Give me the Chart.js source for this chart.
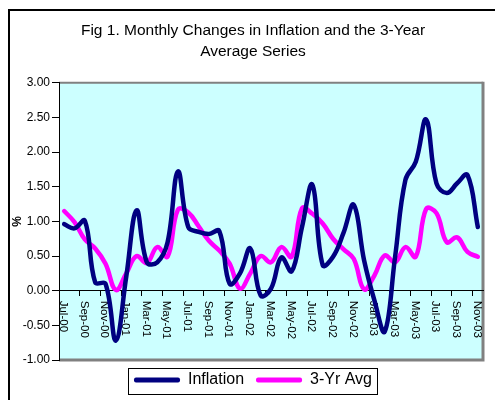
<!DOCTYPE html>
<html>
<head>
<meta charset="utf-8">
<script src="https://cdn.jsdelivr.net/npm/chart.js@4.4.1/dist/chart.umd.min.js"></script>
<style>
html, body { margin: 0; padding: 0; background: #fff; overflow: hidden; }
#frame { position: absolute; left: 8px; top: 9px; width: 600px; height: 500px; border: 2px solid #000; }
#wrap { position: absolute; left: 0; top: 0; width: 495px; height: 400px; }
</style>
</head>
<body>
<div id="frame"></div>
<div id="wrap"><canvas id="chart" width="495" height="400"></canvas></div>
<script>
const months = ['Jul-00', 'Aug-00', 'Sep-00', 'Oct-00', 'Nov-00', 'Dec-00',
    'Jan-01', 'Feb-01', 'Mar-01', 'Apr-01', 'May-01', 'Jun-01', 'Jul-01', 'Aug-01', 'Sep-01', 'Oct-01', 'Nov-01', 'Dec-01',
    'Jan-02', 'Feb-02', 'Mar-02', 'Apr-02', 'May-02', 'Jun-02', 'Jul-02', 'Aug-02', 'Sep-02', 'Oct-02', 'Nov-02', 'Dec-02',
    'Jan-03', 'Feb-03', 'Mar-03', 'Apr-03', 'May-03', 'Jun-03', 'Jul-03', 'Aug-03', 'Sep-03', 'Oct-03', 'Nov-03'];

const inflation = [0.96, 0.90, 1.01, 0.12, 0.10, -0.72, 0.20, 1.16, 0.41, 0.41, 0.70, 1.72,
    0.92, 0.85, 0.82, 0.86, 0.10, 0.25, 0.61, -0.07, 0.03, 0.48, 0.28, 0.92, 1.53, 0.37,
    0.49, 0.83, 1.24, 0.44, -0.14, -0.59, 0.49, 1.60, 1.86, 2.47, 1.55, 1.41, 1.55, 1.67, 0.92];

const avg3yr = [1.15, 0.99, 0.74, 0.61, 0.39, 0.01, 0.25, 0.50, 0.40, 0.63, 0.49, 1.17,
    1.13, 0.93, 0.72, 0.58, 0.39, 0.03, 0.25, 0.50, 0.41, 0.63, 0.49, 1.19, 1.11, 0.97,
    0.75, 0.60, 0.46, 0.02, 0.22, 0.51, 0.41, 0.63, 0.49, 1.18, 1.12, 0.70, 0.77, 0.56, 0.49];

const yMin = -1;
const yMax = 3;
const yStep = 0.5;

const titleLines = ['Fig 1. Monthly Changes in Inflation and the 3-Year', 'Average Series'];
const FONT = '"Liberation Sans", Arial, sans-serif';

Chart.defaults.font.family = FONT;
Chart.defaults.color = '#000';

// fond cyan + cadre gris de la zone de tracé
const plotArea = {
    id: 'plotArea',
    beforeDraw(chart) {
        const { ctx, chartArea: a } = chart;
        ctx.save();
        ctx.fillStyle = '#CCFFFF';
        ctx.fillRect(a.left, a.top, a.right - a.left, a.bottom - a.top);
        ctx.strokeStyle = '#808080';
        ctx.lineWidth = 2;
        ctx.beginPath();
        ctx.moveTo(a.left, a.top);
        ctx.lineTo(a.right, a.top);
        ctx.stroke();
        ctx.lineWidth = 3;
        ctx.beginPath();
        ctx.moveTo(a.right, a.top - 1);
        ctx.lineTo(a.right, a.bottom);
        ctx.lineTo(a.left, a.bottom);
        ctx.stroke();
        ctx.restore();
    },
    beforeDatasetsDraw(chart) {
        const ctx = chart.ctx;
        const xs = chart.scales.x;
        const y0 = chart.scales.y.getPixelForValue(0);
        ctx.save();
        ctx.font = '11.5px ' + FONT;
        ctx.fillStyle = '#000';
        ctx.textAlign = 'left';
        ctx.textBaseline = 'middle';
        months.forEach((m, i) => {
            if (i % 2) return;
            ctx.save();
            ctx.translate(xs.getPixelForValue(i) - 1, y0 + 10);
            ctx.rotate(Math.PI / 2);
            ctx.fillText(m, 0, 0);
            ctx.restore();
        });
        // titre de l'axe Y
        const a = chart.chartArea;
        ctx.font = 'bold 12px ' + FONT;
        ctx.textAlign = 'center';
        ctx.translate(18, (a.top + a.bottom) / 2);
        ctx.rotate(-Math.PI / 2);
        ctx.fillText('%', 0, 0);
        ctx.restore();
    },
    afterDraw(chart) {
        const boxes = chart.legend.legendHitBoxes;
        if (!boxes || !boxes.length) return;
        const left = Math.min(...boxes.map(b => b.left)) - 6;
        const right = Math.max(...boxes.map(b => b.left + b.width)) + 5;
        const top = Math.min(...boxes.map(b => b.top)) - 4;
        const bottom = Math.max(...boxes.map(b => b.top + b.height)) + 6;
        const ctx = chart.ctx;
        ctx.save();
        ctx.strokeStyle = '#000';
        ctx.lineWidth = 1;
        ctx.strokeRect(Math.round(left) + 0.5, Math.round(top) + 0.5, Math.round(right - left), Math.round(bottom - top));
        ctx.restore();
    }
};

new Chart(document.getElementById('chart'), {
    type: 'line',
    data: {
        labels: months,
        datasets: [
            { label: 'Inflation', data: inflation, borderColor: '#000080', backgroundColor: '#000080',
              borderWidth: 4.5, pointRadius: 0, tension: 0.4, borderCapStyle: 'round', borderJoinStyle: 'round' },
            { label: '3-Yr Avg', data: avg3yr, borderColor: '#FF00FF', backgroundColor: '#FF00FF',
              borderWidth: 4.5, pointRadius: 0, tension: 0.4, borderCapStyle: 'round', borderJoinStyle: 'round' }
        ]
    },
    options: {
        responsive: false,
        animation: false,
        devicePixelRatio: 1,
        layout: { padding: { left: 23, right: 12, top: 10, bottom: 2 } },
        scales: {
            x: {
                type: 'category',
                offset: true,
                position: { y: 0 },
                grid: {
                    offset: true,
                    drawOnChartArea: false,
                    drawTicks: true,
                    tickLength: 5,
                    tickColor: ctx => (ctx.index % 2 === 0 ? '#000' : 'rgba(0,0,0,0)')
                },
                border: { display: true, color: '#000', width: 1 },
                ticks: { display: false, autoSkip: false },
                afterFit: s => { s.height = 0; }
            },
            y: {
                position: 'left',
                min: yMin,
                max: yMax,
                grid: { drawOnChartArea: false, tickLength: 7, tickColor: '#000', color: '#000' },
                border: { display: true, color: '#000', width: 1 },
                ticks: {
                    stepSize: yStep,
                    padding: 2,
                    font: { size: 12 },
                    color: '#000',
                    callback: v => v.toFixed(2)
                },
                afterFit: s => { s.width = 36; }
            }
        },
        plugins: {
            title: {
                display: true,
                text: titleLines,
                color: '#000',
                font: { size: 15.5, weight: 'normal', lineHeight: 1.35 },
                padding: { top: 10.5, bottom: 20.5 }
            },
            legend: {
                position: 'bottom',
                labels: {
                    boxWidth: 46,
                    boxHeight: 5,
                    padding: 12,
                    color: '#000',
                    font: { size: 16 },
                    generateLabels: chart => Chart.defaults.plugins.legend.labels.generateLabels(chart)
                        .map(l => Object.assign(l, { lineWidth: 0, borderRadius: 2 }))
                }
            },
            tooltip: { enabled: false }
        }
    },
    plugins: [plotArea]
});
</script>
</body>
</html>
